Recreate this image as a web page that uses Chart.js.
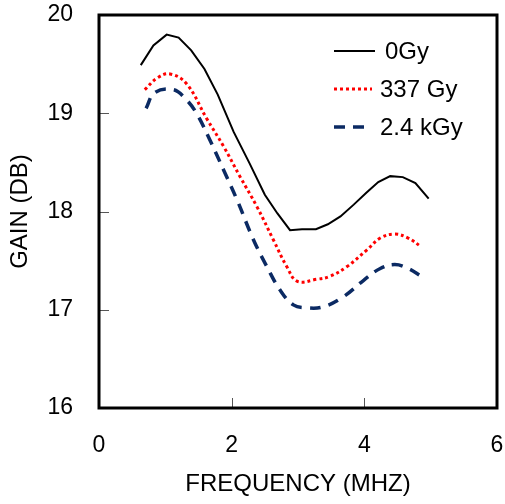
<!DOCTYPE html>
<html>
<head>
<meta charset="utf-8">
<script src="https://cdn.jsdelivr.net/npm/chart.js@4"></script>
<style>
  html, body { margin: 0; padding: 0; background: #fff; }
  #wrap { width: 505px; height: 504px; }
</style>
</head>
<body>
<div id="wrap"><canvas id="grafica"></canvas></div>
<script>
// datos
var frecuencia0 = [0.63, 0.82, 1.02, 1.20, 1.39, 1.59, 1.79, 2.03, 2.27, 2.50, 2.69, 2.88, 3.06, 3.27, 3.45, 3.64, 3.84, 4.03, 4.21, 4.39, 4.58, 4.77, 4.97];
var ganancia0 = [19.49, 19.69, 19.80, 19.77, 19.64, 19.45, 19.19, 18.81, 18.49, 18.17, 17.98, 17.81, 17.82, 17.82, 17.87, 17.95, 18.07, 18.19, 18.30, 18.36, 18.35, 18.29, 18.13];

var frecuencia337 = [0.69, 0.88, 1.07, 1.32, 1.62, 1.88, 2.13, 2.38, 2.63, 2.83, 2.99, 3.28, 3.48, 3.74, 4.04, 4.24, 4.46, 4.66, 4.86];
var ganancia337 = [19.24, 19.36, 19.40, 19.30, 18.95, 18.66, 18.35, 18.05, 17.71, 17.44, 17.29, 17.31, 17.34, 17.44, 17.61, 17.73, 17.77, 17.73, 17.64];

var frecuencia2k = [0.71, 0.84, 1.12, 1.30, 1.47, 1.67, 1.88, 2.08, 2.33, 2.53, 2.73, 2.93, 3.13, 3.38, 3.68, 3.99, 4.24, 4.46, 4.66, 4.86];
var ganancia2k = [19.05, 19.21, 19.24, 19.15, 19.00, 18.73, 18.42, 18.12, 17.71, 17.44, 17.20, 17.05, 17.02, 17.03, 17.13, 17.30, 17.42, 17.46, 17.42, 17.34];

var etiquetas = ['0Gy', '337 Gy', '2.4 kGy'];
var ticksX = [0, 2, 4, 6];
var ticksY = [16, 17, 18, 19, 20];

function puntos(xs, ys) {
    var p = [];
    for (var i = 0; i < xs.length; i++) {
        p.push({ x: xs[i], y: ys[i] });
    }
    return p;
}

var fuente = "'Liberation Sans', Arial, sans-serif";

// marco, marcas hacia adentro y leyenda dentro del area
var marco = {
    id: 'marco',
    afterDraw: function (chart) {
        var ctx = chart.ctx;
        var a = chart.chartArea;
        var sx = chart.scales.x, sy = chart.scales.y;
        ctx.save();
        ctx.strokeStyle = '#555';
        ctx.lineWidth = 1;
        ctx.beginPath();
        ticksX.forEach(function (v) {
            var px = Math.round(sx.getPixelForValue(v)) + 0.5;
            ctx.moveTo(px, a.bottom);
            ctx.lineTo(px, a.bottom - 10);
        });
        ticksY.forEach(function (v) {
            var py = Math.round(sy.getPixelForValue(v)) + 0.5;
            ctx.moveTo(a.left, py);
            ctx.lineTo(a.left + 10, py);
        });
        ctx.stroke();

        ctx.strokeStyle = '#000';
        ctx.lineWidth = 3;
        ctx.strokeRect(a.left, a.top, a.right - a.left, a.bottom - a.top);

        // leyenda
        ctx.font = '24px ' + fuente;
        ctx.textBaseline = 'middle';
        ctx.fillStyle = '#000';
        var filas = [51, 89, 127];
        var xTexto = [385, 380, 380];
        chart.data.datasets.forEach(function (ds, i) {
            ctx.beginPath();
            ctx.strokeStyle = ds.borderColor;
            ctx.lineWidth = ds.borderWidth;
            ctx.setLineDash(ds.borderDash || []);
            ctx.moveTo(334, filas[i]);
            ctx.lineTo(i === 0 ? 375 : 372, filas[i]);
            ctx.stroke();
            ctx.setLineDash([]);
            ctx.fillText(etiquetas[i], xTexto[i], filas[i] + 1);
        });
        ctx.restore();
    }
};

var chart = new Chart(document.getElementById('grafica').getContext('2d'), {
    type: 'line',
    data: {
        datasets: [{
            label: etiquetas[0],
            data: puntos(frecuencia0, ganancia0),
            borderColor: '#000000',
            borderWidth: 2,
            tension: 0,
            pointRadius: 0
        }, {
            label: etiquetas[1],
            data: puntos(frecuencia337, ganancia337),
            borderColor: '#ff0000',
            borderWidth: 3,
            borderDash: [3, 3],
            tension: 0.4,
            pointRadius: 0
        }, {
            label: etiquetas[2],
            data: puntos(frecuencia2k, ganancia2k),
            borderColor: '#0b2a63',
            borderWidth: 3.5,
            borderDash: [11, 8],
            tension: 0.4,
            pointRadius: 0
        }]
    },
    options: {
        responsive: true,
        maintainAspectRatio: false,
        animation: false,
        layout: { padding: { left: 0, right: 8, top: 15, bottom: 0 } },
        plugins: {
            legend: { display: false },
            tooltip: { enabled: false }
        },
        scales: {
            x: {
                type: 'linear',
                min: 0,
                max: 6,
                afterBuildTicks: function (s) { s.ticks = ticksX.map(function (v) { return { value: v }; }); },
                afterFit: function (s) {
                    s.height = 96;
                    s.paddingLeft = 0; s.paddingRight = 0;
                },
                grid: { display: false, drawTicks: false },
                border: { display: false },
                ticks: { color: '#000', padding: 24, font: { size: 23, family: fuente } },
                title: {
                    display: true,
                    text: 'FREQUENCY (MHZ)',
                    color: '#000',
                    font: { size: 24, family: fuente },
                    padding: { top: 0, bottom: 5 }
                }
            },
            y: {
                min: 16,
                max: 20,
                afterBuildTicks: function (s) { s.ticks = ticksY.map(function (v) { return { value: v }; }); },
                afterFit: function (s) {
                    s.width = 99;
                    s.paddingTop = 0; s.paddingBottom = 0;
                },
                grid: { display: false, drawTicks: false },
                border: { display: false },
                ticks: { color: '#000', padding: 26, font: { size: 23, family: fuente } },
                title: {
                    display: true,
                    text: 'GAIN (DB)',
                    color: '#000',
                    font: { size: 24, family: fuente },
                    padding: { top: 6, bottom: 0 }
                }
            }
        }
    },
    plugins: [marco]
});
</script>
</body>
</html>
